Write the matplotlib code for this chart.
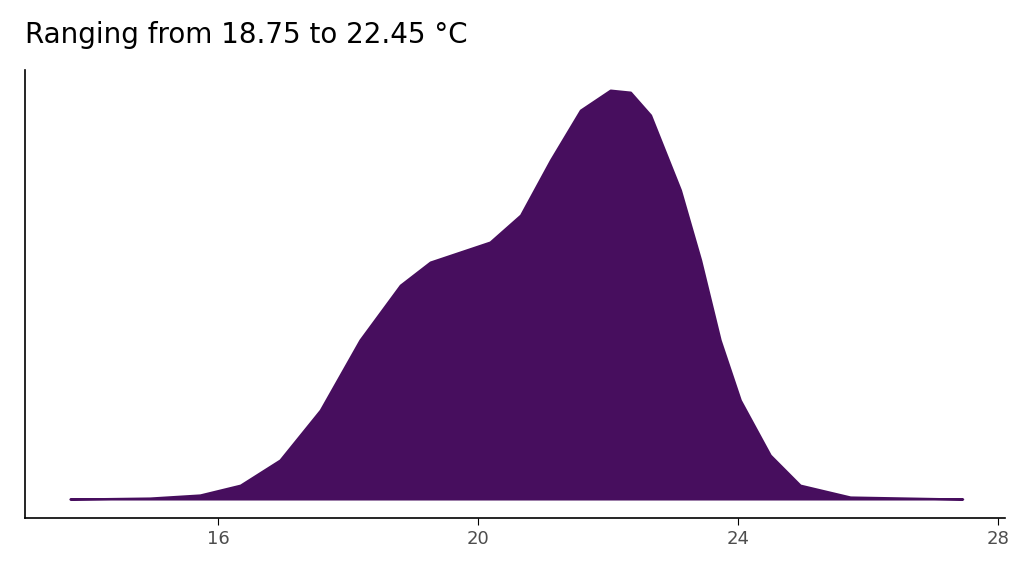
import matplotlib
matplotlib.use("Agg")
import matplotlib.pyplot as plt

temp = [13.72, 14.95, 15.72, 16.34, 16.95, 17.57, 18.18, 18.80, 19.26, 19.72, 20.18, 20.65, 21.11, 21.57, 22.03, 22.34, 22.65, 23.11, 23.42, 23.72, 24.03, 24.49, 24.95, 25.72, 27.45]
density = [0.0, 0.0005, 0.0020, 0.0068, 0.0191, 0.0435, 0.0778, 0.1046, 0.1159, 0.1208, 0.1257, 0.1389, 0.1658, 0.1902, 0.2000, 0.1990, 0.1878, 0.1511, 0.1169, 0.0778, 0.0484, 0.0215, 0.0068, 0.0010, 0.0]

fig = plt.figure(figsize=(10.24, 5.76), dpi=100)
ax = fig.add_axes([25/1024, 1-518/576, 980/1024, 448/576])
ax.fill_between(temp, density, color="#470E5E", linewidth=1.5, edgecolor="#470E5E")
ax.set_xlim(13.03, 28.1)
ax.set_ylim(-0.0093, 0.2098)
ax.set_xticks([16, 20, 24, 28])
ax.tick_params(axis="x", labelsize=13, labelcolor="#4d4d4d", length=5)
ax.set_yticks([])
for s in ["top", "right"]:
    ax.spines[s].set_visible(False)
ax.spines["left"].set_linewidth(1.2)
ax.spines["bottom"].set_linewidth(1.2)
fig.text(25/1024, 1-35/576, "Ranging from 18.75 to 22.45 °C", fontsize=20, va="center", ha="left")
fig.savefig("out.png", dpi=100)
